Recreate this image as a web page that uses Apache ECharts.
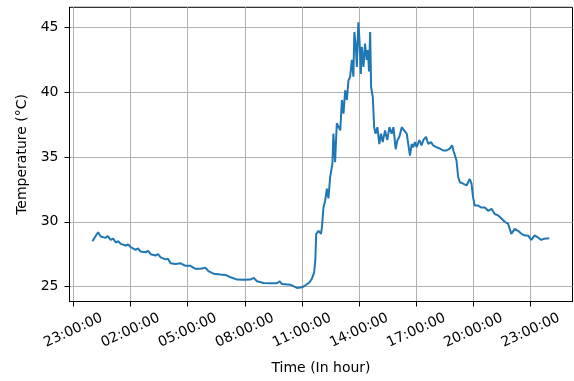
<!DOCTYPE html>
<html>
<head>
<meta charset="utf-8">
<script src="https://cdn.jsdelivr.net/npm/echarts@6/dist/echarts.min.js"></script>
<style>
  html, body { margin: 0; padding: 0; background: #fff; }
  #chart { width: 574px; height: 381px; }
</style>
</head>
<body>
<div id="chart"></div>
<script>
// Hours since midnight (00:00) for each reading
const hours = [
  0.00, 0.30, 0.44, 0.54, 0.70, 0.81, 0.96, 1.09, 1.23, 1.36,
  1.49, 1.75, 1.88, 2.01, 2.27, 2.40, 2.53, 2.80, 2.93, 3.06,
  3.32, 3.45, 3.58, 3.84, 3.97, 4.10, 4.37, 4.63, 4.89, 5.15,
  5.41, 5.68, 5.94, 6.09, 6.36, 6.72, 6.98, 7.25, 7.60, 7.94,
  8.29, 8.47, 8.64, 8.99, 9.34, 9.69, 9.83, 9.95, 10.39, 10.74,
  11.00, 11.17, 11.26, 11.40, 11.52, 11.64, 11.70, 11.75, 11.87, 12.00,
  12.05, 12.13, 12.22, 12.31, 12.39, 12.48, 12.60, 12.65, 12.74, 12.83,
  13.01, 13.10, 13.18, 13.27, 13.36, 13.44, 13.53, 13.62, 13.70, 13.75,
  13.83, 13.88, 13.96, 14.02, 14.09, 14.14, 14.23, 14.31, 14.40, 14.46,
  14.52, 14.58, 14.63, 14.72, 14.79, 14.86, 14.96, 15.06, 15.15, 15.24,
  15.36, 15.48, 15.59, 15.71, 15.80, 15.92, 16.01, 16.11, 16.24, 16.36,
  16.50, 16.58, 16.67, 16.76, 16.84, 16.93, 17.02, 17.16, 17.28, 17.37,
  17.51, 17.63, 17.77, 17.89, 18.07, 18.24, 18.41, 18.59, 18.76, 18.88,
  18.97, 19.11, 19.20, 19.29, 19.46, 19.64, 19.72, 19.81, 19.90, 19.98,
  20.07, 20.25, 20.42, 20.60, 20.77, 20.95, 21.12, 21.29, 21.47, 21.64,
  21.82, 21.99, 22.17, 22.34, 22.52, 22.69, 22.86, 23.04, 23.21, 23.38,
  23.56, 23.73, 23.98
];

// Temperature readings (°C)
const temps = [
  28.50, 29.20, 28.86, 29.00, 28.76, 28.90, 28.60, 28.70, 28.40, 28.50,
  28.30, 28.17, 28.25, 28.04, 27.84, 27.95, 27.70, 27.65, 27.75, 27.50,
  27.40, 27.50, 27.26, 27.10, 27.15, 26.80, 26.75, 26.80, 26.60, 26.60,
  26.37, 26.37, 26.45, 26.20, 26.00, 25.93, 25.90, 25.72, 25.54, 25.52,
  25.54, 25.67, 25.41, 25.28, 25.26, 25.26, 25.41, 25.20, 25.15, 24.90,
  24.95, 25.08, 25.20, 25.33, 25.60, 26.10, 27.00, 29.07, 29.30, 29.07,
  29.60, 31.10, 31.65, 32.55, 31.80, 33.45, 34.50, 36.80, 34.60, 37.60,
  37.05, 39.40, 38.35, 40.15, 39.40, 40.90, 41.20, 42.50, 41.20, 44.65,
  43.50, 41.95, 45.40, 44.00, 41.40, 43.50, 41.95, 43.75, 42.50, 43.25,
  41.60, 44.65, 40.40, 39.60, 37.30, 36.80, 37.30, 36.00, 36.80, 36.15,
  37.05, 36.30, 37.30, 36.80, 37.30, 35.60, 36.30, 36.55, 37.30, 37.05,
  36.80, 36.00, 35.10, 36.00, 35.75, 36.15, 35.75, 36.30, 35.90, 36.30,
  36.55, 36.00, 36.15, 35.90, 35.75, 35.65, 35.50, 35.50, 35.65, 35.90,
  35.40, 34.75, 33.45, 33.05, 32.95, 32.80, 33.05, 33.30, 32.95, 31.90,
  31.25, 31.25, 31.10, 31.10, 30.85, 31.00, 30.60, 30.50, 30.25, 30.00,
  29.85, 29.07, 29.45, 29.30, 29.07, 28.95, 28.95, 28.60, 28.95, 28.80,
  28.60, 28.70, 28.73
];

// X tick positions (hours relative to 00:00) and their labels
const xTickHours = [-1, 2, 5, 8, 11, 14, 17, 20, 23];
const xTickLabels = ['23:00:00', '02:00:00', '05:00:00', '08:00:00', '11:00:00',
                     '14:00:00', '17:00:00', '20:00:00', '23:00:00'];

// Y ticks
const yTicks = [25, 30, 35, 40, 45];

const seriesData = hours.map((h, i) => [h, temps[i]]);
const FONT = 'DejaVu Sans';

const chart = echarts.init(document.getElementById('chart'), null, { renderer: 'canvas' });
chart.setOption({
  animation: false,
  backgroundColor: '#fff',
  grid: {
    left: 69.5, right: 1.5, top: 7.3, bottom: 79.5,
    show: true, borderColor: '#000', borderWidth: 1, backgroundColor: 'transparent'
  },
  xAxis: {
    type: 'value',
    min: -1.2, max: 25.2,
    name: 'Time (In hour)',
    nameLocation: 'middle',
    nameGap: 60,
    nameTextStyle: { color: '#000', fontFamily: FONT, fontSize: 14 },
    axisLine: { show: true, onZero: false, lineStyle: { color: '#000', width: 1 } },
    axisTick: { show: true, inside: false, length: 5, customValues: xTickHours,
                lineStyle: { color: '#000', width: 1 } },
    axisLabel: {
      show: true, customValues: xTickHours, rotate: 25, margin: 29,
      align: 'center', verticalAlign: 'middle',
      color: '#000', fontFamily: FONT, fontSize: 14,
      formatter: function (v) {
        const i = xTickHours.indexOf(Math.round(v));
        return i >= 0 ? xTickLabels[i] : '';
      }
    },
    splitLine: { show: true, lineStyle: { color: '#b0b0b0', width: 1 } }
  },
  yAxis: {
    type: 'value',
    min: 23.85, max: 46.55,
    name: 'Temperature (°C)',
    nameLocation: 'middle',
    nameGap: 40,
    nameTextStyle: { color: '#000', fontFamily: FONT, fontSize: 14 },
    axisLine: { show: true, onZero: false, lineStyle: { color: '#000', width: 1 } },
    axisTick: { show: true, inside: false, length: 5, customValues: yTicks,
                lineStyle: { color: '#000', width: 1 } },
    axisLabel: { show: true, customValues: yTicks, margin: 11,
                 color: '#000', fontFamily: FONT, fontSize: 14 },
    splitLine: { show: true, lineStyle: { color: '#b0b0b0', width: 1 } }
  },
  series: [{
    type: 'line',
    data: seriesData,
    showSymbol: false,
    symbol: 'none',
    lineStyle: { color: '#1f77b4', width: 2 },
    itemStyle: { color: '#1f77b4' }
  }]
});
</script>
</body>
</html>
